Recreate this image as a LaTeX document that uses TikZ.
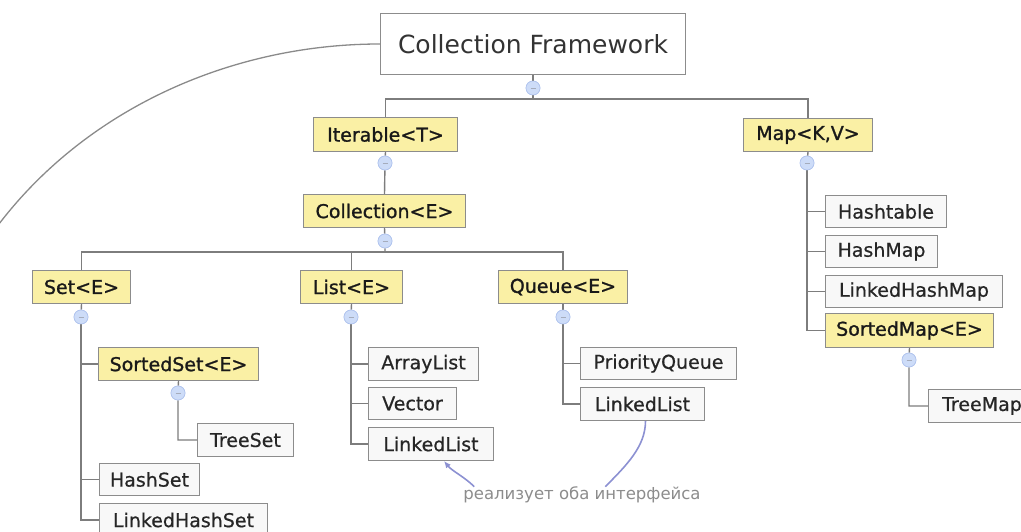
\documentclass[tikz,border=0pt]{standalone}
\usepackage{fontspec}
\setmainfont{DejaVu Sans}
\newfontfamily\ifacefont[FakeBold=1.2]{DejaVu Sans}
\newfontfamily\implfont[FakeBold=0.6]{DejaVu Sans}
\usetikzlibrary{arrows.meta}

\definecolor{ifacefill}{RGB}{250,240,165}
\definecolor{implfill}{RGB}{248,248,248}
\definecolor{boxline}{RGB}{140,140,140}
\definecolor{treeline}{RGB}{125,125,125}
\definecolor{btnfill}{RGB}{205,220,248}
\definecolor{btnline}{RGB}{175,195,238}
\definecolor{notecol}{RGB}{140,140,140}
\definecolor{notearrowcol}{RGB}{140,145,210}

\tikzset{
  boxbase/.style={draw=boxline, line width=1pt, inner sep=0pt, anchor=north west},
  iface/.style={boxbase, fill=ifacefill, text=black!90, font=\ifacefont\fontsize{19}{22}\selectfont},
  impl/.style={boxbase, fill=implfill, text=black!85, font=\implfont\fontsize{19}{22}\selectfont},
  rootbox/.style={draw=boxline, line width=1pt, fill=white, inner sep=0pt, anchor=north west,
    text=black!80, font=\fontsize{25}{30}\selectfont},
  tree/.style={draw=treeline, line width=1.4pt},
  btn/.style={circle, minimum size=14pt, inner sep=0pt, fill=btnfill, draw=btnline, line width=0.6pt,
    path picture={\draw[btnline!60!black!60, line width=0.8pt]
      ([xshift=-2.5pt]path picture bounding box.center) -- ([xshift=2.5pt]path picture bounding box.center);}},
  arcline/.style={draw=treeline!90, line width=1.3pt},
  notetext/.style={text=notecol, inner sep=1pt, font=\fontsize{16.5}{19}\selectfont},
  notelink/.style={draw=notearrowcol, line width=1.6pt},
}

\begin{document}
\begin{tikzpicture}[x=1pt, y=-1pt]
\useasboundingbox (0,0) rectangle (1021,532);
\clip (0,0) rectangle (1021,532);

% root
\node[rootbox, minimum width=305pt, minimum height=61pt] (CF) at (380,13) {Collection Framework};

% interfaces
\node[iface, minimum width=144pt, minimum height=34pt] (Iter) at (313,117) {Iterable<T>};
\node[iface, minimum width=129pt, minimum height=33pt] (Map) at (743,118) {Map<K,V>};
\node[iface, minimum width=162pt, minimum height=33pt] (Coll) at (303,194) {Collection<E>};
\node[iface, minimum width=98pt, minimum height=33pt] (Set) at (32,270) {Set<E>};
\node[iface, minimum width=102pt, minimum height=33pt] (List) at (300,270) {List<E>};
\node[iface, minimum width=129pt, minimum height=33pt] (Queue) at (498,270) {Queue<E>};
\node[iface, minimum width=160pt, minimum height=33pt] (SSet) at (98,347) {SortedSet<E>};
\node[iface, minimum width=168pt, minimum height=34pt] (SMap) at (825,313) {SortedMap<E>};

% implementations
\node[impl, minimum width=96pt, minimum height=33pt] (TreeSet) at (197,423) {TreeSet};
\node[impl, minimum width=100pt, minimum height=32pt] (HashSet) at (99,463) {HashSet};
\node[impl, minimum width=168pt, minimum height=33pt] (LHSet) at (99,503) {LinkedHashSet};
\node[impl, minimum width=110pt, minimum height=33pt] (AList) at (368,347) {ArrayList};
\node[impl, minimum width=88pt, minimum height=32pt] (Vector) at (368,387) {Vector};
\node[impl, minimum width=125pt, minimum height=33pt] (LListA) at (368,427) {LinkedList};
\node[impl, minimum width=156pt, minimum height=32pt] (PQueue) at (580,347) {PriorityQueue};
\node[impl, minimum width=124pt, minimum height=33pt] (LListB) at (580,387) {LinkedList};
\node[impl, minimum width=121pt, minimum height=32pt] (HTable) at (825,195) {Hashtable};
\node[impl, minimum width=112pt, minimum height=32pt] (HMap) at (825,235) {HashMap};
\node[impl, minimum width=177pt, minimum height=32pt] (LHMap) at (825,275) {LinkedHashMap};
\node[impl, minimum width=107pt, minimum height=33pt] (TMap) at (928,389) {TreeMap};

% collapse buttons (positions)
\node[btn] (bCF) at (533,88) {};
\node[btn] (bIter) at (385,163) {};
\node[btn] (bColl) at (385,241) {};
\node[btn] (bMap) at (807,163) {};
\node[btn] (bSet) at (81,317) {};
\node[btn] (bList) at (351,317) {};
\node[btn] (bQueue) at (563,317) {};
\node[btn] (bSSet) at (178,393) {};
\node[btn] (bSMap) at (909,360) {};

% tree connectors
\draw[tree] (CF.south) -- (bCF);
\draw[tree] (bCF) -- (bCF |- 0,99);
\draw[tree] (Iter.north) |- (400,99) -| (Map.north);
\draw[tree] (Iter.south) -- (bIter) -- (Coll.north);
\draw[tree] (Coll.south) -- (bColl) -- (bColl |- 0,252);
\draw[tree] (Set.north) |- (200,252) -| (Queue.north);
\draw[tree] (List.north) -- (List.north |- 0,252);
\draw[tree] (Set.south) -- (bSet);
\draw[tree] (bSet) |- (SSet.west);
\draw[tree] (bSet) |- (HashSet.west);
\draw[tree] (bSet) |- (LHSet.west);
\draw[tree] (SSet.south) -- (bSSet) |- (TreeSet.west);
\draw[tree] (List.south) -- (bList);
\draw[tree] (bList) |- (AList.west);
\draw[tree] (bList) |- (Vector.west);
\draw[tree] (bList) |- (LListA.west);
\draw[tree] (Queue.south) -- (bQueue);
\draw[tree] (bQueue) |- (PQueue.west);
\draw[tree] (bQueue) |- (LListB.west);
\draw[tree] (Map.south) -- (bMap);
\draw[tree] (bMap) |- (HTable.west);
\draw[tree] (bMap) |- (HMap.west);
\draw[tree] (bMap) |- (LHMap.west);
\draw[tree] (bMap) |- (SMap.west);
\draw[tree] (SMap.south) -- (bSMap) |- (TMap.west);

% buttons again, on top of the lines
\foreach \b in {bCF,bIter,bColl,bMap,bSet,bList,bQueue,bSSet,bSMap}
  \node[btn] at (\b) {};

% big arc leaving the root to the left
\coordinate (arcEnd) at (-7,232);
\draw[arcline] (CF.west) .. controls +(-150,0) and (82,110) .. (arcEnd);

% annotation
\node[notetext] (note) at (582,495) {реализует оба интерфейса};
\draw[notelink, -{Latex[length=7pt,width=6pt]}] ([xshift=12pt,yshift=-1pt]note.north west)
  .. controls +(-10,-10) and +(8,10) .. ([xshift=13pt]LListA.south);
\draw[notelink] ([xshift=143pt,yshift=-1pt]note.north west)
  .. controls +(22,-22) and +(0,25) .. ([xshift=3pt]LListB.south);
\end{tikzpicture}
\end{document}
